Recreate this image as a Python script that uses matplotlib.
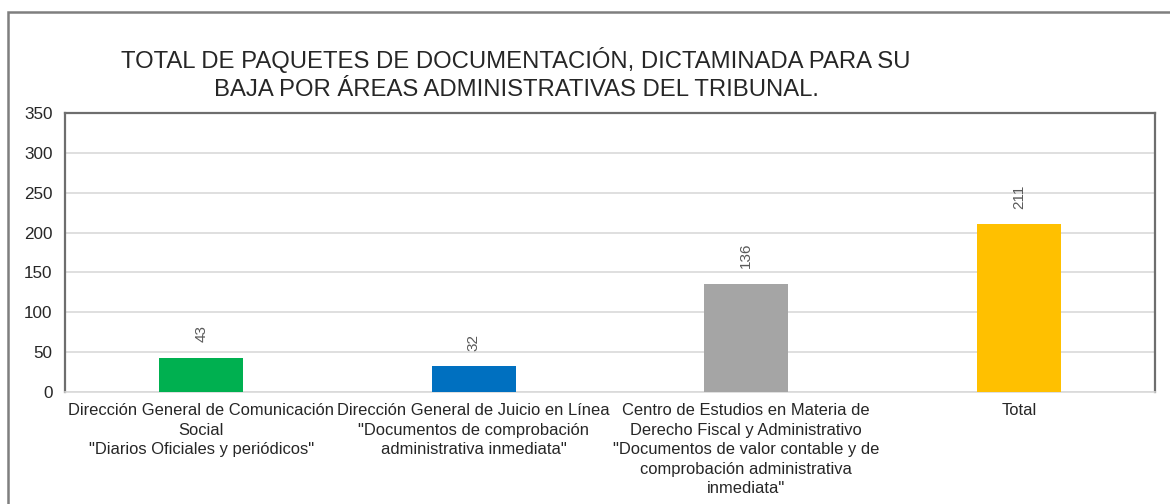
import matplotlib.pyplot as plt
from matplotlib.patches import Rectangle

plt.rcParams['font.family'] = ['Liberation Sans', 'DejaVu Sans']

categorias = [
    'Dirección General de Comunicación\nSocial\n"Diarios Oficiales y periódicos"',
    'Dirección General de Juicio en Línea\n"Documentos de comprobación\nadministrativa inmediata"',
    'Centro de Estudios en Materia de\nDerecho Fiscal y Administrativo\n"Documentos de valor contable y de\ncomprobación administrativa\ninmediata"',
    'Total',
]
paquetes = [43, 32, 136, 211]
colores = ['#00B050', '#0070C0', '#A5A5A5', '#FFC000']
titulo = 'TOTAL DE PAQUETES DE DOCUMENTACIÓN, DICTAMINADA PARA SU\nBAJA POR ÁREAS ADMINISTRATIVAS DEL TRIBUNAL.'

fig = plt.figure(figsize=(11.7, 5.04), dpi=100)
ax = fig.add_axes([65/1170, 112/504, 1090/1170, 279/504])

# marco exterior del grafico
fig.patches.append(Rectangle((8/1170, -0.1), 1.2, (504-12)/504 + 0.1,
                             transform=fig.transFigure, fill=False,
                             edgecolor='#7F7F7F', linewidth=1.8))

x = range(len(paquetes))
barras = ax.bar(x, paquetes, width=0.31, color=colores, zorder=3)
for xi, v in zip(x, paquetes):
    ax.annotate(str(v), (xi, v), xytext=(0, 11), textcoords='offset points',
                ha='center', va='bottom', rotation=90, fontsize=11, color='#595959')

ax.set_xlim(-0.5, 3.5)
ax.set_ylim(0, 350)
ax.set_yticks(range(0, 351, 50))
ax.set_xticks(list(x))
ax.set_xticklabels(categorias, fontsize=11.9, color='#262626', linespacing=1.38)
ax.tick_params(axis='y', labelsize=12.3, labelcolor='#262626', length=0, pad=9)
ax.tick_params(axis='x', length=0, pad=8)
ax.grid(axis='y', color='#D9D9D9', linewidth=1.2, zorder=0)
for lado in ['top', 'left', 'right']:
    ax.spines[lado].set_color('#6E6E6E')
    ax.spines[lado].set_linewidth(1.6)
ax.spines['bottom'].set_color('#D9D9D9')
ax.spines['bottom'].set_linewidth(1.2)

fig.text(516/1170, 1 - 47/504, titulo, ha='center', va='top', fontsize=17.2,
         color='#262626', linespacing=1.38)

fig.savefig('out.png', dpi=100)
